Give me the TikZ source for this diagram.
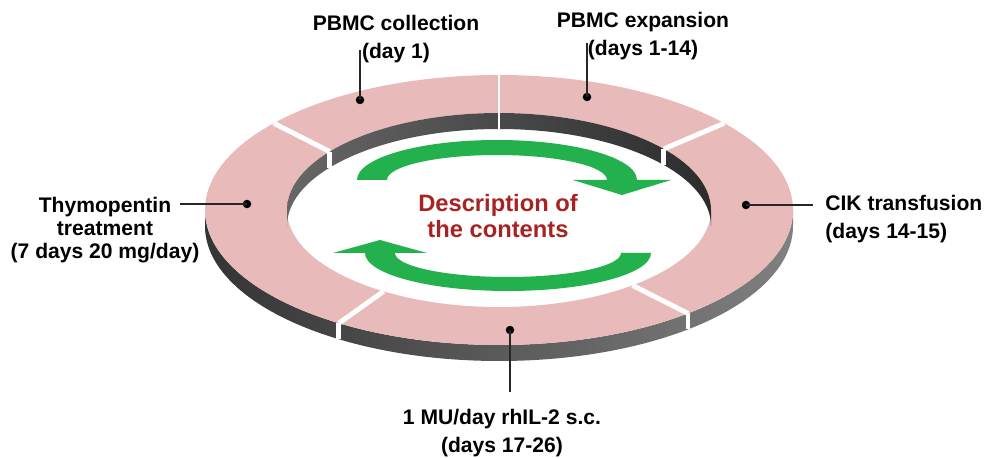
\documentclass[tikz,border=0pt]{standalone}
\usepackage{fontspec}
\setmainfont{Liberation Sans}
\usetikzlibrary{calc}
\definecolor{ringpink}{RGB}{232,186,185}
\definecolor{walldark}{RGB}{52,52,52}
\definecolor{walllight}{RGB}{128,128,128}
\definecolor{arrowgreen}{RGB}{34,177,76}
\definecolor{textred}{RGB}{168,34,34}

\begin{document}
\begin{tikzpicture}[x=0.02cm, y=0.02cm,
  dot/.style={circle, fill=black, inner sep=0pt, minimum size=0.17cm},
  lbl/.style={font=\fontsize{12}{16}\selectfont\bfseries, align=center, inner sep=0pt},
  gap/.style={white, line width=2.8pt},
  lead/.style={draw=black!85, line width=1pt}]
  \useasboundingbox (0,0) rectangle (985,457);
  \coordinate (O) at (499,247);

  % ring: outer wall, top face, inner wall
  \shade[left color=walldark, right color=walllight]
    ([shift={(180:294 and 135)}]O) -- ++(0,-16)
    arc[start angle=180, end angle=360, x radius=294, y radius=135] -- ++(0,16)
    arc[start angle=0, end angle=-180, x radius=294, y radius=135] -- cycle;
  \fill[ringpink, even odd rule] (O) ellipse[x radius=294, y radius=135]
    (O) ellipse[x radius=212, y radius=97];
  \shade[left color=walllight!80!black, right color=walldark!85!black]
    ([shift={(180:212 and 97)}]O)
    arc[start angle=180, end angle=0, x radius=212, y radius=97] -- ++(0,-16)
    arc[start angle=0, end angle=180, x radius=212, y radius=97] -- cycle;

  % gaps between the segments
  \foreach \a/\b in {140/143, 40/39, 237/237, 310/309}
    \draw[gap] ([shift={(\b:212 and 97)}]O) -- ([shift={(\a:294 and 135)}]O);
  \draw[gap, line width=1pt] ([shift={(90:212 and 97)}]O) -- ++(0,-16)
    ([shift={(90:212 and 97)}]O) -- ([shift={(90:294 and 135)}]O);
  \foreach \b in {143, 39}
    \draw[gap] ([shift={(\b:212 and 97)}]O) -- ++(0,-16);
  \foreach \a in {237, 310}
    \draw[gap] ([shift={(\a:294 and 135)}]O) -- ++(0,-16);

  % cycle arrows
  \fill[arrowgreen] (357,277) arc[start angle=180, end angle=0, x radius=140, y radius=40]
    -- (671,277) -- (622,262) -- (573,277) -- (607,277)
    arc[start angle=0, end angle=180, x radius=110, y radius=25] -- cycle;
  \fill[arrowgreen] (651,204) arc[start angle=0, end angle=-180, x radius=143, y radius=38]
    -- (333,204) -- (380,217) -- (427,204) -- (395,204)
    arc[start angle=180, end angle=360, x radius=113, y radius=24] -- cycle;

  \node[font=\fontsize{13.5}{15}\selectfont\bfseries, text=textred, align=center]
    (desc) at (498,241) {Description of\\the contents};

  % points on the ring and their labels
  \node[dot] (d1) at (360,357) {};
  \node[dot] (d2) at (587,360) {};
  \node[dot] (d3) at (247,253) {};
  \node[dot] (d4) at (746,252) {};
  \node[dot] (d5) at (510,127) {};
  \coordinate (e1) at (360,407);
  \coordinate (e2) at (587,414);
  \coordinate (e3) at (180,253);
  \coordinate (e4) at (813,252);
  \coordinate (e5) at (510,65);
  \foreach \i in {1,...,5}
    \draw[lead] (d\i.center) -- (e\i);

  \node[lbl] (collect) at (396,418) {PBMC collection\\(day 1)};
  \node[lbl] (expand) at (643,421) {PBMC expansion\\(days 1-14)};
  \node[lbl, font=\fontsize{12}{13}\selectfont\bfseries] (thymo) at (105,227)
    {Thymopentin\\treatment\\(7 days 20 mg/day)};
  \node[lbl, anchor=west, align=left] (cik) at (825,238) {CIK transfusion\\(days 14-15)};
  \node[lbl] (rhil) at (502,24) {1 MU/day rhIL-2 s.c.\\(days 17-26)};
\end{tikzpicture}
\end{document}
